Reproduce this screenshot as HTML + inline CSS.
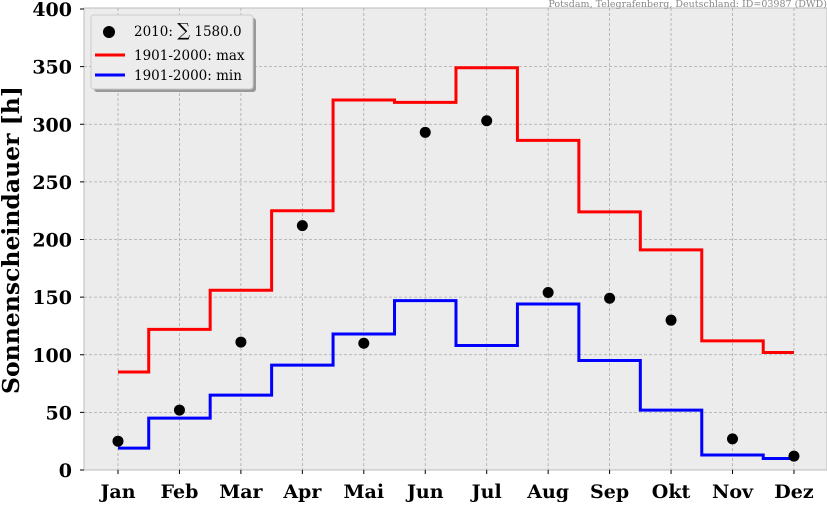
<!DOCTYPE html>
<html><head><meta charset="utf-8"><style>
body{margin:0;background:#fff;width:827px;height:502px;overflow:hidden}
text{font-family:"DejaVu Serif","Liberation Serif",serif}
</style></head><body>
<svg id="s" width="827" height="502" xmlns="http://www.w3.org/2000/svg">
<rect x="84" y="8" width="743" height="462" fill="#ececec" stroke="#bdbdbd"/>
<g id="g"></g>
<text x="827" y="7" font-size="9.5" fill="#888" text-anchor="end">Potsdam, Telegrafenberg, Deutschland: ID=03987 (DWD)</text>
<text transform="translate(19,240) rotate(-90)" font-size="23.5" font-weight="bold" text-anchor="middle">Sonnenscheindauer [h]</text>
<g>
<rect x="94" y="18" width="162" height="74" rx="3" fill="#999"/>
<rect x="91" y="15" width="162" height="74" rx="3" fill="#ececec" stroke="#ccc"/>
<circle cx="109" cy="32" r="6" fill="#000"/>
<text x="134" y="36" font-size="13.5">2010: <tspan font-size="18">∑</tspan> 1580.0</text>
<line x1="95" y1="55" x2="125" y2="55" stroke="red" stroke-width="3"/>
<text x="134" y="60" font-size="13.5">1901-2000: max</text>
<line x1="95" y1="75" x2="125" y2="75" stroke="blue" stroke-width="3"/>
<text x="134" y="80" font-size="13.5">1901-2000: min</text>
</g>
</svg>
<script>
var g=document.getElementById('g'),h='';
function Y(v){return 470-v*1.1525}
function X(i){return 118+i*61.45}
for(var v=0;v<=400;v+=50){var y=Y(v);if(v>0&&v<400)h+='<line x1="84" x2="827" y1="'+y+'" y2="'+y+'" stroke="#aaa" stroke-dasharray="3,2" stroke-width="0.8"/>';
h+='<line x1="80" x2="84" y1="'+y+'" y2="'+y+'" stroke="#000"/><text x="72" y="'+(y+7)+'" font-size="19" font-weight="bold" text-anchor="end">'+v+'</text>';}
var m=['Jan','Feb','Mar','Apr','Mai','Jun','Jul','Aug','Sep','Okt','Nov','Dez'];
for(var i=0;i<12;i++){var x=X(i);h+='<line y1="8" y2="470" x1="'+x+'" x2="'+x+'" stroke="#aaa" stroke-dasharray="3,2" stroke-width="0.8"/><line y1="470" y2="474" x1="'+x+'" x2="'+x+'" stroke="#000"/><text x="'+x+'" y="498" font-size="19" font-weight="bold" text-anchor="middle">'+m[i]+'</text>';}
function step(d,c){var p='M'+X(0)+','+Y(d[0]);for(var i=0;i<12;i++){var x1=i<11?X(i)+30.72:X(11);p+=' H'+x1;if(i<11)p+=' V'+Y(d[i+1]);}return '<path d="'+p+'" fill="none" stroke="'+c+'" stroke-width="3"/>';}
h+=step([85,122,156,225,321,319,349,286,224,191,112,102],'red');
h+=step([19,45,65,91,118,147,108,144,95,52,13,10],'blue');
[25,52,111,212,110,293,303,154,149,130,27,12].forEach(function(v,i){h+='<circle cx="'+X(i)+'" cy="'+Y(v)+'" r="5.5" fill="#000"/>';});
g.innerHTML=h;
</script>
</body></html>
